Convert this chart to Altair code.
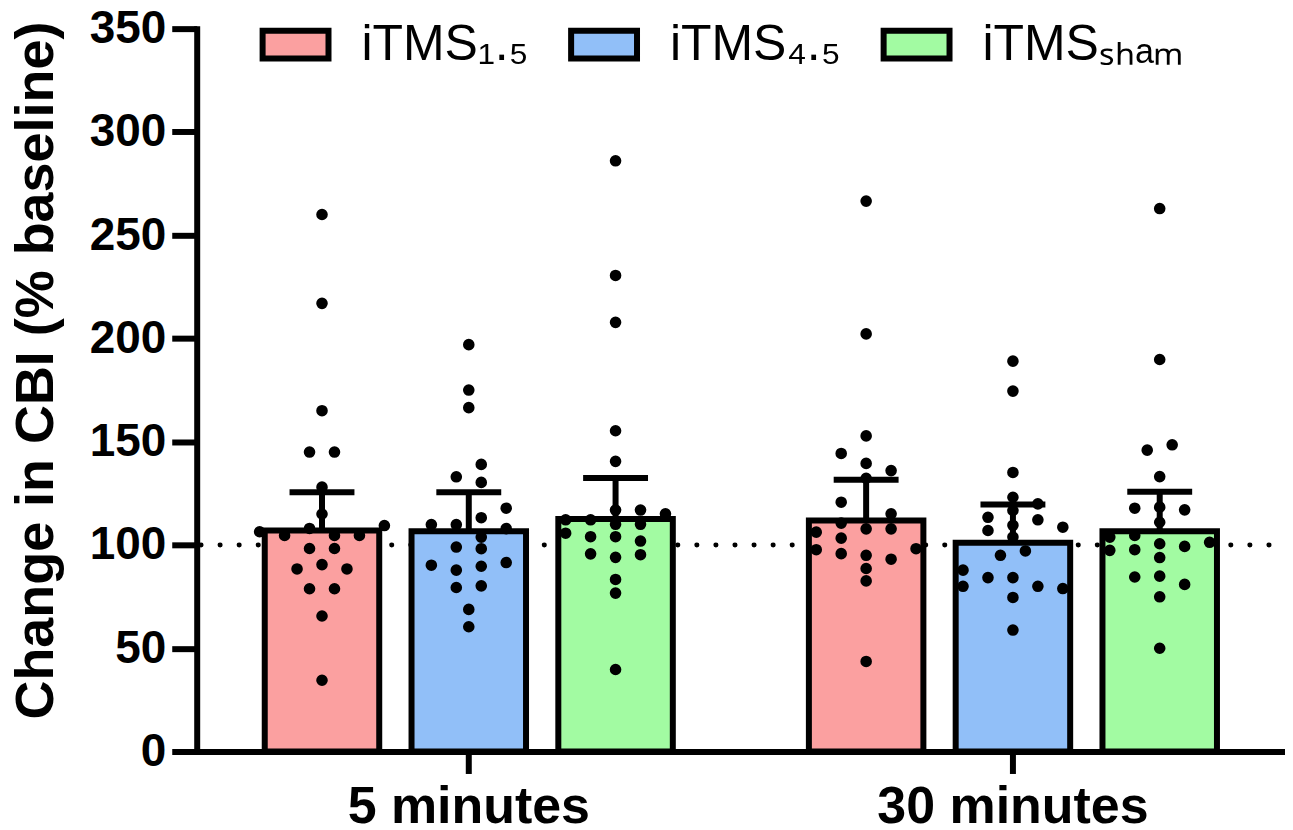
import altair as alt
import pandas as pd

times = ["5 minutes", "30 minutes"]
series = ["iTMS₁.₅", "iTMS₄.₅", "iTMSₛₕₐₘ"]
colors = ["#FBA0A0", "#91BFF8", "#A2FBA2"]

# bar heights and upper end of error bars, order: time x series
bar_mean = [107.0, 106.7, 112.6, 111.9, 101.1, 106.7]
bar_upper = [125.5, 125.5, 132.4, 131.6, 119.6, 125.8]

# individual values and their beeswarm slot
v_5_15 = [260, 217, 165, 145, 145, 128, 115, 109.4, 106.4, 104.6, 108.0, 104.6, 104.6, 98.3, 98.3, 90.5, 88.4, 88.4, 78.8, 78.8, 65.6, 34.5]
s_5_15 = [0, 0, 0, -0.5, 0.5, 0, 0, 2.5, -2.5, -1.5, -0.5, 0.5, 1.5, -0.5, 0.5, 0, -1, 1, -0.5, 0.5, 0, 0]
v_5_45 = [197, 175, 166.5, 139, 133, 130.3, 117.8, 113.2, 109.9, 109.9, 107.9, 103.8, 99, 98.2, 91.5, 90.2, 89.7, 87.8, 80.2, 79.4, 68.8, 60.4]
s_5_45 = [0, 0, 0, 0.5, -0.5, 0.5, 1.5, 0.5, -1.5, -0.5, 1.5, 0.5, -0.5, 0.5, 1.5, -1.5, 0.5, -0.5, 0.5, -0.5, 0, 0]
v_5_sh = [286, 230.5, 207.8, 155.3, 140.5, 116.9, 116.9, 115.1, 112.2, 112.2, 110, 110, 105.7, 104, 104, 101.9, 95.7, 95.3, 94, 83.3, 76.7, 39.7]
s_5_sh = [0, 0, 0, 0, 0, 0, 1, 2, -2, -1, 0, 1, -2, -1, 0, 1, -1, 1, 0, 0, 0, 0]
v_30_15 = [266.5, 202.2, 152.8, 144.3, 139.5, 136, 132.3, 120.7, 115.1, 110.6, 107.8, 107.8, 106.2, 103.3, 98.2, 97.7, 95.8, 95, 93.1, 88.6, 82.6, 43.6]
s_30_15 = [0, 0, 0, -1, 0, 1, 0, -1, 1, -1, 0, 1, -2, -1, 2, -2, -1, 0, 1, 0, 0, 0]
v_30_45 = [189, 174.5, 135.1, 123.1, 119.9, 116.7, 113.4, 112.2, 109.5, 108.6, 107, 103.8, 97.1, 95, 87.8, 84.2, 84.2, 80, 80, 78.9, 74.6, 58.8]
s_30_45 = [0, 0, 0, 0, 1, 0, -1, 1, 0, 2, -1, 0, 0.5, -0.5, -2, -1, 0, -2, 1, 2, 0, 0]
v_30_sh = [262.9, 189.8, 148.5, 145.9, 133.1, 117.8, 118.3, 117, 111, 104.6, 103.8, 101.3, 100.6, 99.3, 97.7, 97.4, 93.9, 84.5, 84.9, 80.9, 74.9, 50]
s_30_sh = [0, 0, 0.5, -0.5, 0, -1, 0, 1, 0, -1, -2, 2, 0, 1, -1, -2, 0, -1, 0, 1, 0, 0]

y_ticks = [0, 50, 100, 150, 200, 250, 300, 350]
baseline = 100

FONT = "Liberation Sans"
PLOT_W, PLOT_H = 1090, 724
SLOT = 0.17  # horizontal spacing of swarm slots, in bar pitches

groups = [
    (v_5_15, s_5_15), (v_5_45, s_5_45), (v_5_sh, s_5_sh),
    (v_30_15, s_30_15), (v_30_45, s_30_45), (v_30_sh, s_30_sh),
]

bar_rows, dot_rows = [], []
for i, t in enumerate(times):
    for j, s in enumerate(series):
        k = i * 3 + j
        bar_rows.append({"time": t, "series": s, "mean": bar_mean[k], "upper": bar_upper[k]})
        vals, slots = groups[k]
        for v, sl in zip(vals, slots):
            dot_rows.append({"time": t, "series": s, "value": v, "u": j + sl * SLOT})
bar_df = pd.DataFrame(bar_rows)
dot_df = pd.DataFrame(dot_rows)

yscale = alt.Scale(domain=[0, 350], nice=False, zero=True)
xscale = alt.Scale(domain=times, paddingInner=0, paddingOuter=0)

X = alt.X("time:N", scale=xscale, sort=times,
          axis=alt.Axis(title=None, labelAngle=0, labelFont=FONT, labelFontSize=52,
                        labelFontWeight="bold", labelColor="black", labelPadding=8,
                        labelLimit=600, grid=False,
                        tickSize=22, tickWidth=6, tickColor="black",
                        domainWidth=6, domainColor="black", domainCap="square"))
Y = alt.Y("mean:Q", scale=yscale,
          axis=alt.Axis(values=y_ticks, title="Change in CBI (% baseline)", grid=False,
                        labelFont=FONT, labelFontSize=46, labelFontWeight="bold",
                        labelColor="black", labelPadding=6,
                        tickSize=25, tickWidth=6, tickColor="black",
                        domainWidth=6, domainColor="black", domainCap="square",
                        titleFont=FONT, titleFontSize=54, titleFontWeight="bold",
                        titleColor="black", titlePadding=26, titleY=342))
XO = alt.XOffset("series:N", sort=series,
                 scale=alt.Scale(domain=series, paddingInner=0.22, paddingOuter=0.4635))

ref = alt.Chart(pd.DataFrame({"y": [baseline]})).mark_rule(
    color="black", strokeWidth=5, strokeDash=[0.1, 19], strokeCap="round", strokeDashOffset=-16
).encode(y=alt.Y("y:Q", scale=yscale))

bars = alt.Chart(bar_df).mark_bar(stroke="black", strokeWidth=6, opacity=1).encode(
    x=X, xOffset=XO, y=Y,
    color=alt.Color("series:N", sort=series, scale=alt.Scale(domain=series, range=colors),
                    legend=alt.Legend(title=None, orient="none", legendX=63, legendY=-20,
                                      direction="horizontal",
                                      symbolType="M-1,-0.424H1V0.424H-1Z", symbolSize=4356,
                                      symbolStrokeWidth=6, symbolStrokeColor="black",
                                      symbolOpacity=1,
                                      labelFont=FONT, labelFontSize=50, labelColor="black",
                                      labelOffset=30, labelLimit=400, columnPadding=30,
                                      padding=0)),
)

err = alt.Chart(bar_df).mark_rule(color="black", strokeWidth=6).encode(
    x=X, xOffset=XO, y=alt.Y("mean:Q", scale=yscale), y2="upper:Q"
)
cap = alt.Chart(bar_df).mark_tick(color="black", thickness=6, size=65, opacity=1).encode(
    x=X, xOffset=XO, y=alt.Y("upper:Q", scale=yscale)
)
dots = alt.Chart(dot_df).mark_circle(size=135, color="black", opacity=1).encode(
    x=X,
    xOffset=alt.XOffset("u:Q", scale=alt.Scale(domain=[-0.8537, 2.8537], range=[0, PLOT_W / 2])),
    y=alt.Y("value:Q", scale=yscale),
)

chart = (
    alt.layer(ref, bars, err, cap, dots)
    .resolve_scale(xOffset="independent")
    .properties(
        width=PLOT_W, height=PLOT_H,
        autosize=alt.AutoSizeParams(type="none"),
        padding={"left": 189, "top": 20, "right": 0, "bottom": 110},
    )
    .configure(font=FONT)
    .configure_view(strokeWidth=0, stroke="transparent")
    .configure_axis(grid=False)
)

chart.save("out.html", embed_options={"renderer": "svg", "actions": False})
